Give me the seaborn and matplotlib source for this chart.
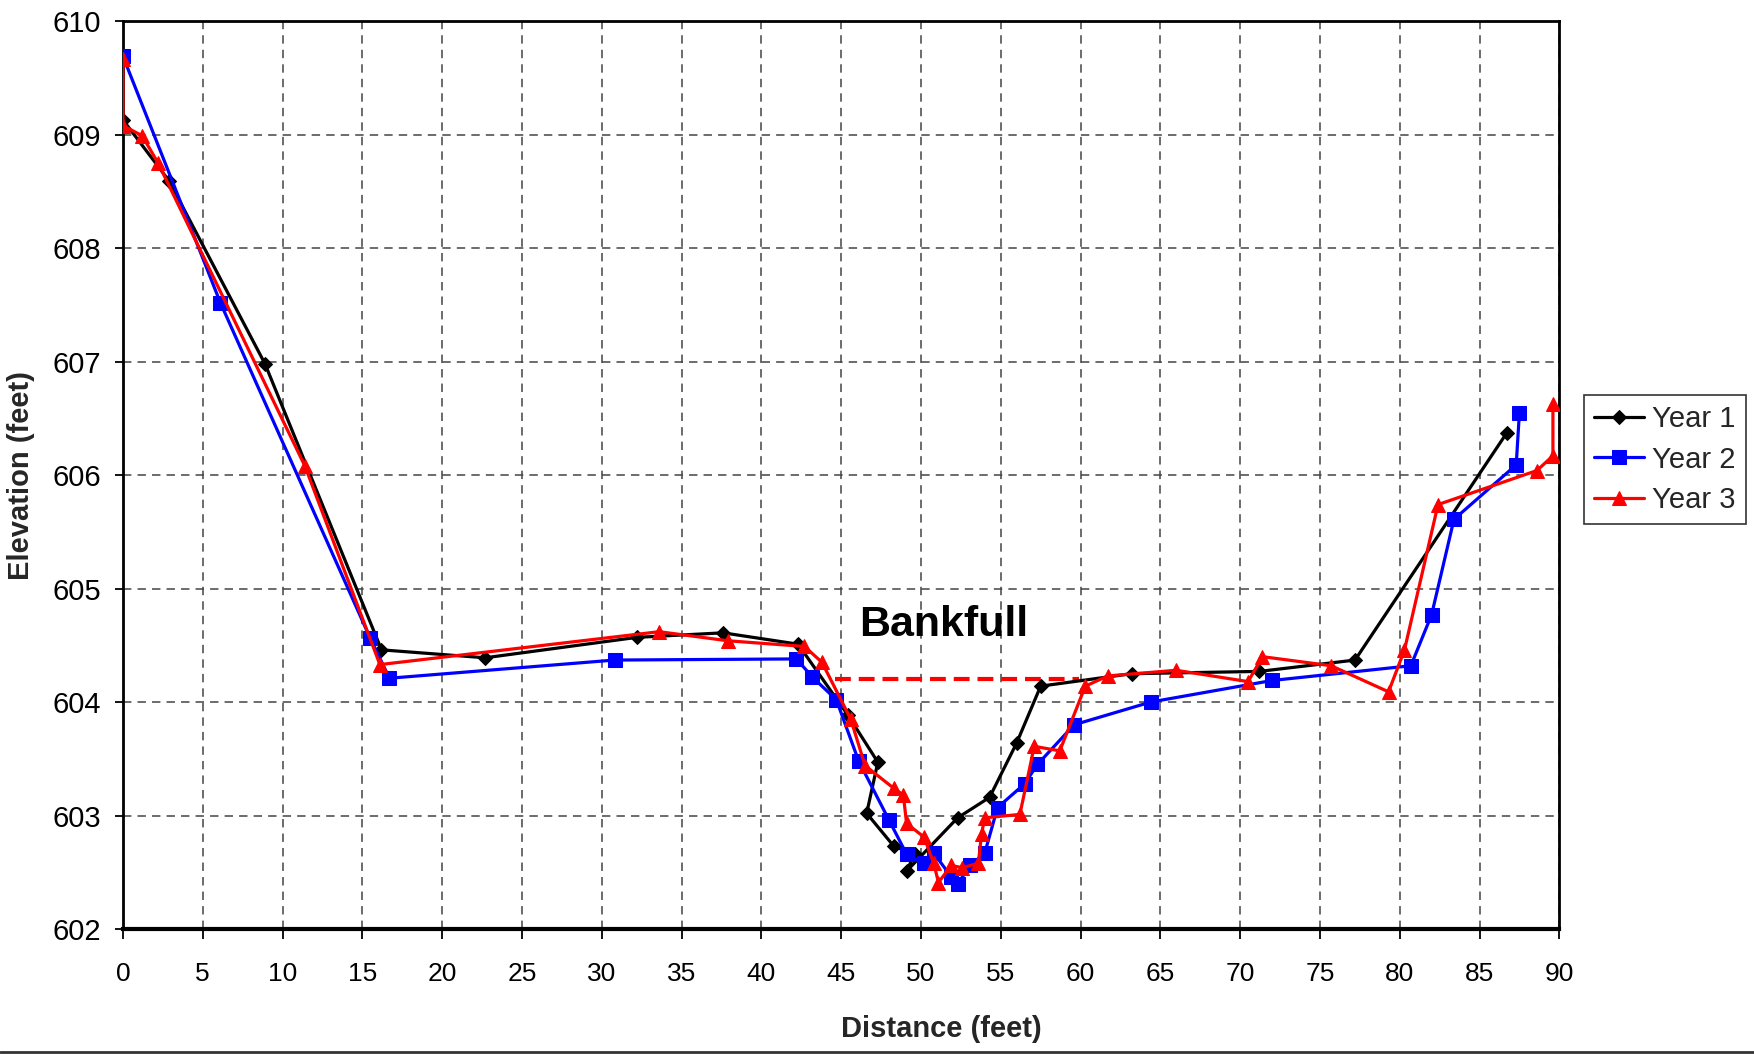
import matplotlib
matplotlib.use("Agg")
import matplotlib.pyplot as plt
import seaborn as sns
import numpy as np
from matplotlib.lines import Line2D

# ---------------- data ----------------
year1_x = [0.0, 2.9, 8.9, 16.2, 22.7, 32.2, 37.6, 42.3, 45.4, 47.3, 46.6, 48.3,
           49.6, 49.1, 52.3, 54.3, 56.0, 57.5, 63.2, 71.2, 77.2, 86.7]
year1_y = [609.13, 608.59, 606.98, 604.46, 604.39, 604.57, 604.61, 604.51, 603.89,
           603.47, 603.02, 602.73, 602.66, 602.51, 602.98, 603.16, 603.64, 604.14,
           604.25, 604.27, 604.37, 606.37]

year2_x = [0.0, 6.1, 15.5, 16.7, 30.8, 42.2, 43.2, 44.7, 46.1, 48.0, 49.1, 50.2,
           50.8, 51.9, 52.3, 53.1, 54.0, 54.8, 56.5, 57.3, 59.6, 64.4, 72.0, 80.7,
           82.0, 83.4, 87.3, 87.5]
year2_y = [609.69, 607.52, 604.56, 604.21, 604.37, 604.38, 604.22, 604.02, 603.48,
           602.96, 602.66, 602.58, 602.67, 602.46, 602.40, 602.56, 602.67, 603.07,
           603.28, 603.45, 603.80, 604.00, 604.19, 604.32, 604.77, 605.61, 606.09,
           606.55]

year3_x = [0.0, 0.0, 1.2, 2.2, 11.4, 16.1, 33.6, 37.9, 42.7, 43.8, 45.6, 46.5,
           48.3, 48.9, 49.1, 50.2, 50.8, 51.1, 51.9, 52.6, 53.6, 53.8, 54.0, 56.2,
           57.1, 58.7, 60.3, 61.7, 66.0, 70.5, 71.4, 75.7, 79.3, 80.3, 82.4, 88.6,
           89.6, 89.6]
year3_y = [609.67, 609.08, 608.99, 608.75, 606.08, 604.33, 604.62, 604.54, 604.49,
           604.35, 603.85, 603.44, 603.24, 603.18, 602.93, 602.81, 602.58, 602.41,
           602.56, 602.54, 602.58, 602.84, 602.98, 603.01, 603.61, 603.57, 604.14,
           604.23, 604.28, 604.18, 604.40, 604.32, 604.09, 604.46, 605.74, 606.04,
           606.17, 606.63]

bankfull_x = [44.6, 59.9]
bankfull_y = [604.2, 604.2]

series_names = ["Year 1", "Year 2", "Year 3"]
x_ticks = list(range(0, 91, 5))
y_ticks = list(range(602, 611, 1))

# ---------------- style ----------------
sns.set_style("white")
plt.rcParams["font.family"] = ["Liberation Sans", "DejaVu Sans"]

fig = plt.figure(figsize=(17.54, 10.55), dpi=100)
ax = fig.add_axes([0.0701, 0.1194, 0.889 - 0.0701, 0.980 - 0.1194])

styles = [
    dict(x=year1_x, y=year1_y, color="#000000", marker="D", ms=7.5),
    dict(x=year2_x, y=year2_y, color="#0000FF", marker="s", ms=9.5),
    dict(x=year3_x, y=year3_y, color="#FF0000", marker="^", ms=10),
]
for name, st in zip(series_names, styles):
    sns.lineplot(x=st["x"], y=st["y"], sort=False, estimator=None, ax=ax,
                 color=st["color"], marker=st["marker"], markersize=st["ms"],
                 markeredgecolor=st["color"], markerfacecolor=st["color"],
                 linewidth=2.3, label=name, zorder=3)

sns.lineplot(x=bankfull_x, y=bankfull_y, ax=ax, color="#FF0000", linewidth=3,
             linestyle=(0, (3.8, 1.9)), zorder=2, legend=False)

ax.text(46.1, 604.68, "Bankfull", fontsize=31, fontweight="bold",
        ha="left", va="center", color="black")

ax.set_xlim(0, 90)
ax.set_ylim(602, 610)
ax.set_xticks(x_ticks)
ax.set_yticks(y_ticks)
ax.tick_params(axis="x", labelsize=19, length=7, width=1.3, pad=17, direction="out",
               bottom=True, colors="black")
ax.tick_params(axis="y", labelsize=21, length=6, width=1.3, pad=10, direction="out",
               left=True, colors="black")

ax.grid(True, color="#444444", linestyle=(0, (5.5, 4)), linewidth=1.1)
for sp in ax.spines.values():
    sp.set_color("black")
    sp.set_linewidth(2)
ax.spines["bottom"].set_linewidth(3)

ax.set_xlabel("Distance (feet)", fontsize=21, fontweight="bold")
ax.xaxis.set_label_coords(0.570, -0.095)
ax.set_ylabel("Elevation (feet)", fontsize=21, fontweight="bold", labelpad=12)

leg = ax.legend(loc="upper left", bbox_to_anchor=(1.017, 0.588), fontsize=21,
                frameon=True, fancybox=False, shadow=False, borderpad=0.35,
                handlelength=1.7, handletextpad=0.3, labelspacing=0.42,
                borderaxespad=0)
leg.get_frame().set_edgecolor("black")
leg.get_frame().set_linewidth(1.2)

fig.add_artist(Line2D([0, 1], [0.003, 0.003], transform=fig.transFigure,
                      color="#333333", linewidth=2))

fig.savefig("out.png", dpi=100)
